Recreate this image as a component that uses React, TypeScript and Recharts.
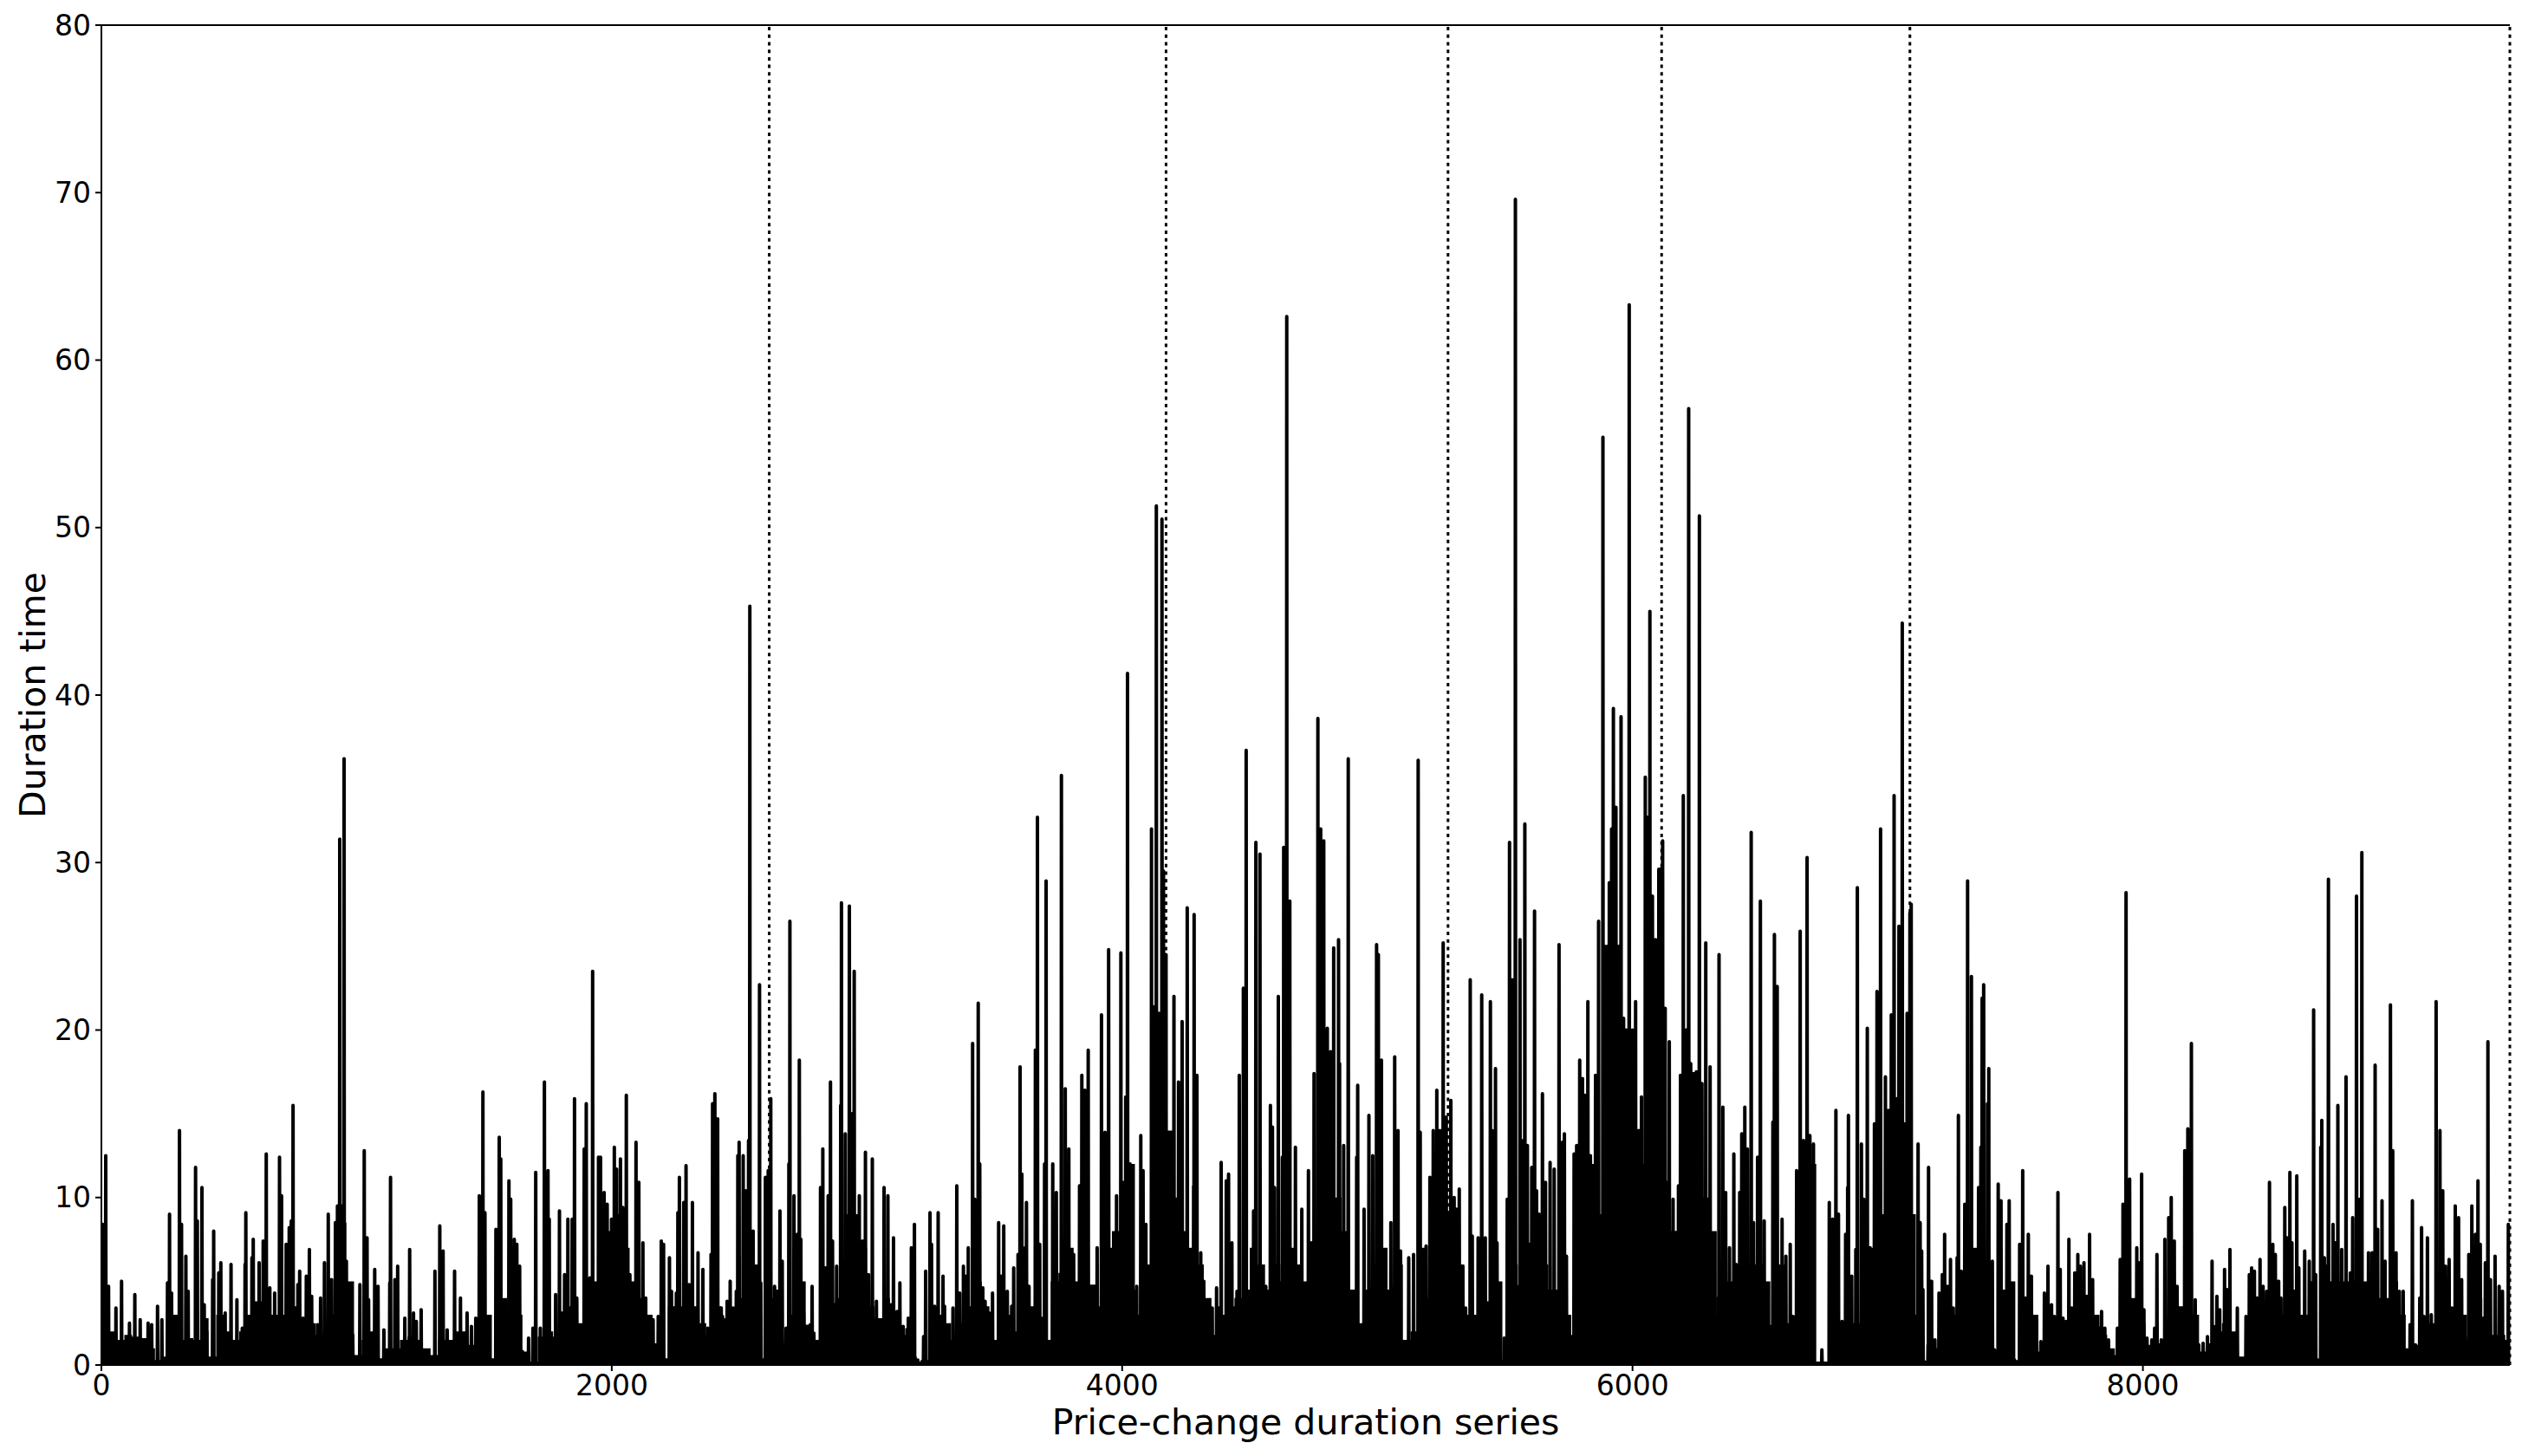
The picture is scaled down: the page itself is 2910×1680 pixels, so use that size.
import React from "react";
import { ComposedChart, Area, Line, XAxis, YAxis, ReferenceLine } from "recharts";

const xTicks = [0, 2000, 4000, 6000, 8000];
const yTicks = [0, 10, 20, 30, 40, 50, 60, 70, 80];
const regimeBreaks = [2617, 4172, 5277, 6114, 7087, 9438];

// [series index, duration], one list per regime
const spikesA: number[][] = [
  [5,8.4],[17,12.5],[28,4.7],[57,3.4],[79,5],[110,2.5],[131,4.2],[152,2.7],[183,2.5],[197,2.4],[220,3.5],[237,2.7],[259,4.9],[267,9],[275,4.3],[306,14],[314,8.4],[331,6.5],[340,4.4],[369,11.8],[376,8.6],[394,10.6],[403,3.6],[413,2],[436,5.1],[440,8],[460,5.5],[468,6.1],[485,3.1],[508,6],[531,3.9],[552,2.2],[563,6],[566,9.1],[590,6.4],[595,7.5],[618,6.1],[634,7.4],[646,12.6],[660,4.6],[679,4.3],[698,12.4],[706,10.1],[724,7.2],[736,8.2],[744,8.6],[751,15.5],[770,4.8],[777,5.6],[790,2.8],[803,5.3],[815,6.9],[824,4.1],[847,2.4],[859,4],[874,6.1],[889,9],[902,5.1],[917,8.5],[925,9.5],[934,31.4],[943,9.5],[951,36.2],[960,6.2],[985,1.8],[1013,4.8],[1030,12.8],[1041,7.6],[1047,3.9],[1071,5.7],[1084,4.7],[1107,2.1],[1130,4.9],[1133,11.2],[1150,5.1],[1161,5.9],[1189,2.8],[1208,6.9],[1223,3.1],[1234,2.6],[1253,3.3],[1307,5.6],[1326,8.3],[1339,6.8],[1355,2.1],
  [1384,5.6],[1407,4],[1433,3.1],[1450,2.3],[1467,2.8],[1481,10.1],[1495,16.3],[1503,9.1],[1515,1.2],[1546,8.1],[1559,13.6],[1565,12.3],[1597,11],[1604,9.9],[1618,7.5],[1628,7.2],[1639,5.9],[1650,0.8],[1674,1.6],[1691,2.2],[1702,11.5],[1720,2.2],[1736,16.9],[1750,11.6],[1755,8.7],[1780,4.2],[1795,9.2],[1815,5.4],[1828,8.7],[1845,8.7],[1854,15.9],[1863,4],[1892,12.9],[1900,15.6],[1914,5.2],[1925,23.5],[1948,12.4],[1956,12.4],[1970,10.3],[1982,9.6],[1999,8.7],[2010,13],[2019,11.7],[2034,12.3],[2043,9.4],[2057,16.1],[2071,5.4],[2083,4.7],[2095,13.3],[2106,10.9],[2122,7.3],[2133,4],[2149,2],[2162,2.7],[2182,2.9],[2194,7.4],[2203,7.2],[2226,6.4],[2234,4.4],[2253,4.3],[2259,9.1],[2265,11.2],[2282,9.7],[2291,11.9],[2303,4.8],[2316,9.7],[2327,3.1],[2338,6.7],[2357,5.7],[2376,2.2],[2389,6.6],[2395,15.6],[2404,16.2],[2415,14.7],[2429,3.4],[2434,2.9],[2452,3.8],[2464,5],[2476,3.4],[2488,4.4],[2494,12.5],[2499,13.3],[2515,12.5],[2525,10.4],[2536,13.4],[2541,45.3],[2554,8],[2579,22.7],[2584,4.9],[2602,11.2],[2613,11.6],
];
const spikesB: number[][] = [
  [2623,15.9],[2638,4.7],[2659,9.2],[2668,6.2],[2683,2.2],[2694,12],[2698,26.5],[2714,10.1],[2727,7.8],[2735,18.2],[2741,7.5],[2752,3.1],[2778,2.4],[2785,4.7],[2792,1.9],[2818,10.6],[2827,12.9],[2837,5.8],[2848,10.1],[2857,16.9],[2865,7.4],[2881,5.9],[2897,15.5],[2900,27.6],[2915,13.8],[2931,27.4],[2942,15],[2950,23.5],[2970,10.1],[2983,7.4],[2994,12.7],[3006,5.4],[3021,12.3],[3037,3.8],[3052,2.3],[3067,10.6],[3082,10.1],[3094,3.6],[3104,7.6],[3118,3.2],[3129,4.9],[3142,2.3],[3162,2.8],[3174,7],[3186,8.4],[3199,0.3],[3222,1.7],[3230,5.6],[3247,9.1],[3253,7.2],[3265,3.5],[3279,9.1],[3298,5.3],[3304,3.5],[3318,2.3],[3337,3.4],[3352,10.7],[3363,4.3],[3378,5.9],[3386,5.3],[3397,7],[3414,19.2],[3422,9.9],[3436,21.6],[3442,12],[3454,4.6],[3463,3.8],[3479,3.1],[3492,4.3],[3516,8.5],[3525,5.3],[3536,8.3],[3550,4.4],[3567,3.5],[3575,5.8],[3592,6.6],[3600,17.8],[3607,11.4],[3620,7],[3625,9.7],[3635,4.7],[3660,18.8],[3668,32.7],[3677,7.2],[3689,2.8],[3696,12],[3702,28.9],[3728,12],[3742,10.3],[3762,35.2],[3777,16.5],[3791,12.9],[3810,6.6],[3822,3.8],[3833,10.7],[3842,17.3],[3854,16.4],[3867,18.8],[3884,3.9],[3902,7],[3919,20.9],[3933,13.9],[3947,24.8],[3978,10.1],[3995,24.6],[4014,16],[4021,41.3],[4031,12],[4048,4.4],[4057,4.7],[4073,13.7],[4082,11.6],[4093,8.4],[4104,3.4],[4115,32],[4121,21.4],[4134,51.3],[4145,21],[4156,50.5],[4162,29.5],
];
const spikesC: number[][] = [
  [4172,24.5],[4189,13.7],[4203,22],[4221,16.9],[4235,20.5],[4255,27.3],[4280,10.7],[4282,26.9],[4293,17.3],[4308,6.7],[4320,5],[4341,3.9],[4353,3.4],[4370,4.6],[4379,3.4],[4388,12.1],[4408,11],[4417,11.4],[4430,7.3],[4450,4.4],[4459,17.3],[4475,22.5],[4486,36.7],[4515,9.2],[4524,31.2],[4540,30.5],[4563,4.7],[4581,15.5],[4589,14.2],[4597,10.6],[4612,22],[4628,12.4],[4633,30.9],[4645,62.6],[4657,27.7],[4679,13],[4704,9.3],[4730,11.6],[4742,7.3],[4752,17.4],[4767,38.6],[4778,32],[4790,31.3],[4804,20.1],[4817,18.7],[4829,24.9],[4848,25.4],[4852,18],[4868,13.1],[4886,36.2],[4897,3.4],[4919,12.4],[4923,16.7],[4948,9.3],[4967,14.9],[4982,12.5],[4997,25.1],[5004,24.5],[5016,18.2],[5033,4.8],[5044,4.4],[5053,8.5],[5068,18.4],[5081,14],[5091,6.8],[5108,0.6],[5123,6.4],[5142,6.6],[5160,36.1],[5168,13.9],[5180,4.3],[5191,7.1],[5206,11.2],[5219,14],[5233,16.4],[5245,14],[5258,25.2],[5270,14.8],
];
const spikesD: number[][] = [
  [5288,15.8],[5301,10],[5310,9.3],[5321,10.5],[5335,5.9],[5346,3.4],[5364,23],[5372,7.7],[5395,7.6],[5409,22.1],[5423,7.6],[5443,21.7],[5450,14],[5463,17.7],[5469,7.3],[5483,0.3],[5497,1.6],[5509,9.9],[5518,31.2],[5529,23],[5541,69.6],[5554,4.7],[5559,25.4],[5571,13.4],[5578,32.3],[5588,13.1],[5596,7.2],[5605,11.8],[5616,27.1],[5624,10.4],[5634,9],[5647,16.2],[5659,10.9],[5677,12.1],[5693,11.7],[5712,25.1],[5725,13.3],[5733,13.8],[5741,6.5],[5749,1],[5763,1.7],[5771,12.6],[5781,13.1],[5793,18.2],[5804,17.1],[5814,16.1],[5825,21.7],[5835,12.5],[5845,9.5],[5855,17.3],[5867,26.5],[5884,55.4],[5892,25],[5900,25],[5909,28.8],[5918,32],[5925,39.2],[5935,33.3],[5945,25],[5955,38.7],[5965,20.7],[5975,20],[5987,63.3],[6000,20],[6012,21.7],[6024,14],[6035,16],[6050,35.1],[6058,32.7],[6068,45],[6078,28],[6090,25.4],[6103,29.6],[6109,29.6],
];
const spikesE: number[][] = [
  [6118,31.3],[6128,21.3],[6144,19.3],[6159,9.9],[6171,7.9],[6180,10.7],[6188,17.3],[6199,34],[6210,20],[6220,57.1],[6228,18],[6239,17.4],[6250,17.5],[6262,50.7],[6272,16.8],[6287,25.2],[6304,17.8],[6315,5.5],[6324,2.5],[6335,4],[6339,24.5],[6354,15.4],[6365,10.3],[6380,7],[6397,12.6],[6406,6],[6420,10.3],[6428,13.8],[6440,15.4],[6450,12.9],[6465,31.8],[6474,8.5],[6490,12.4],[6501,27.7],[6516,8.6],[6527,1.6],[6539,2.3],[6550,14.5],[6556,25.7],[6567,22.6],[6586,8.7],[6601,6.5],[6618,7.2],[6629,2.9],[6643,11.6],[6657,25.9],[6670,13.4],[6684,30.3],[6695,13.7],[6709,13.2],[6742,0.9],[6771,9.7],[6784,8.7],[6797,15.2],[6807,9],[6821,2.6],[6835,7.8],[6843,10.6],[6846,14.9],[6859,5.3],[6875,6.9],[6881,28.5],[6897,13.2],[6906,9.9],[6920,20.1],[6931,7],[6948,14.4],[6958,22.3],[6972,32],[6991,17.2],[7003,15.2],[7014,20.9],[7025,34],[7036,15.9],[7044,26.2],[7057,44.3],[7065,14.4],[7076,21],[7087,27],
];
const spikesF: number[][] = [
  [7092,27.5],[7119,13.2],[7127,8.5],[7133,6.8],[7138,4.5],[7144,0.2],[7158,1.2],[7160,11.8],[7172,5],[7185,1.5],[7201,4.3],[7214,5.4],[7223,7.8],[7234,4.7],[7246,6.3],[7257,3.4],[7272,6.4],[7277,14.9],[7288,5.6],[7302,9.6],[7313,28.9],[7328,23.2],[7348,2.7],[7356,10.6],[7365,13],[7370,21.9],[7376,22.7],[7391,15.6],[7396,17.7],[7410,6.2],[7418,0.9],[7433,10.8],[7444,9.8],[7455,4.1],[7467,8.4],[7476,9.8],[7486,4.4],[7497,0.3],[7517,7.2],[7529,11.6],[7540,4],[7551,7.8],[7563,5.3],[7572,1],[7583,2.7],[7600,1.4],[7614,4.3],[7628,5.9],[7642,3.6],[7653,2.9],[7667,10.3],[7676,5.7],[7687,2.8],[7699,2.6],[7710,7.5],[7721,3.4],[7733,5.5],[7745,6.6],[7755,5.9],[7769,6.1],[7780,4.1],[7791,7.8],[7803,5.1],[7814,2.7],[7829,2.2],[7838,3.2],[7851,2.2],[7865,1.5],[7880,0.6],[7900,2.2],[7911,6.3],[7922,9.6],[7934,28.2],[7948,11.1],[7961,3.3],[7976,7],[7987,6.1],[7995,11.4],[8004,3.3],[8016,1.6],[8035,1.5],[8046,2.2],[8055,6.6],[8072,1.5],[8086,7.5],[8101,8.8],[8111,10],[8123,7.4],[8134,4.7],[8145,1.6],[8153,1.5],[8164,12.8],[8176,14.1],[8190,19.2],[8205,3.9],[8219,1.2],[8236,1.3],[8253,1.7],[8271,6.2],[8277,2.3],[8290,4.1],[8301,3.3],[8320,5.7],[8329,4.5],[8341,6.9],[8349,0.9],[8370,3.4],[8386,0.2],[8404,2.9],[8417,5.4],[8426,5.8],[8437,5.6],[8448,4],[8459,6.3],[8471,4.7],[8485,4.4],[8496,10.9],[8509,7.2],[8519,6.6],[8532,5],[8541,4],[8556,9.4],[8564,7.6],[8576,11.5],[8584,7.3],[8603,11.3],[8611,5.8],[8634,6.8],[8652,6.2],[8660,4.9],[8669,21.2],[8677,5.4],[8685,0.3],[8697,13],[8701,14.6],[8711,6.4],[8727,29],[8745,8.4],[8753,7.3],[8764,15.5],[8779,6.9],[8796,17.2],[8813,5.5],[8822,8.8],[8837,28],[8850,9.9],[8858,30.6],[8869,4.2],[8884,6.7],[8898,6.7],[8910,17.9],[8920,8.1],[8937,9.8],[8949,6.2],[8970,21.5],[8979,12.8],[8992,6.7],[9005,4.4],[9020,4.4],[9034,0.9],[9047,2.4],[9056,9.8],[9068,1.2],[9085,4],[9092,8.2],[9101,2.9],[9115,7.6],[9130,3],[9149,21.7],[9164,14],[9175,10.4],[9186,5.9],[9200,6.3],[9211,3.4],[9224,9.5],[9237,8.8],[9249,5.1],[9262,1.7],[9277,6.6],[9289,9.5],[9303,7.8],[9313,11],[9322,7.2],[9334,2.8],[9342,6.1],[9352,19.3],[9362,5.1],[9380,6.5],[9396,4.7],[9409,4.4],[9419,1.4],[9432,8.4],
];

// height of the solid black mass under the spikes, every 30 points of the series
const massLevels: number[][] = [
  [0,3.5],[30,2],[60,1.5],[90,1.8],[120,1.7],[150,1.6],[180,1],[210,0.3],[240,0.5],[270,3],[300,1.5],[330,1.6],[360,1.5],[390,2.8],[420,0.5],[450,3],[480,2],[510,1.5],[540,2],[570,3],[600,3.8],[630,4.2],[660,3],[690,3],[720,3.2],[750,3.5],[780,2],[810,2.5],[840,1.8],[870,2.5],[900,3],[930,8.5],[960,5],[990,0.6],[1020,1.5],[1050,2],[1080,0.4],[1110,1],[1140,1],[1170,1.5],[1200,1.7],[1230,1.5],[1260,1],[1290,0.6],[1320,1.5],[1350,1.5],
  [1380,2],[1410,2],[1440,1.2],[1470,2.3],[1500,3],[1530,0.4],[1560,4],[1590,2.5],[1620,3],[1650,0.8],[1680,0.2],[1710,1.7],[1740,2],[1770,1.7],[1800,3.2],[1830,3.5],[1860,2.5],[1890,0.4],[1920,5],[1950,7],[1980,8],[2010,9],[2040,7],[2070,5],[2100,4],[2130,3],[2160,1.3],[2190,0.4],[2220,3.5],[2250,3.5],[2280,4],[2310,3.5],[2340,2.5],[2370,1.8],[2400,3.5],[2430,2.8],[2460,3.3],[2490,4],[2520,5],[2550,6],[2580,0.4],[2610,4],[2640,4.5],[2670,1.2],[2700,3],
  [2730,5],[2760,2.4],[2790,1.5],[2820,2],[2850,3.7],[2880,4],[2910,9],[2940,9],[2970,7],[3000,3.5],[3030,2.8],[3060,4],[3090,2.5],[3120,1.8],[3150,2.2],[3180,0.5],[3195,0.2],[3210,0.3],[3240,2],[3270,3],[3300,2.5],[3330,1.5],[3360,2.5],[3390,3.5],[3420,5],[3450,3.5],[3480,1.5],[3510,2.5],[3540,3],[3570,2],[3600,4],[3630,3.5],[3660,2],[3690,1.5],[3720,5],[3750,5.5],[3780,7],[3810,5],[3840,4.5],[3870,4.8],[3900,3.5],[3930,7],[3960,8],[3990,11],[4020,12],[4050,3],
  [4080,6],[4110,14],[4140,14],[4170,14],[4200,10],[4230,8],[4260,7],[4290,6],[4320,4],[4350,1.8],[4380,3],[4410,3.5],[4440,4],[4470,4.5],[4500,7],[4530,6],[4560,4.5],[4590,6],[4620,5],[4650,7],[4680,6],[4710,5],[4740,7],[4770,10],[4800,10],[4830,10],[4860,8],[4890,4.5],[4920,2.5],[4950,4.5],[4980,6],[5010,7],[5040,4.5],[5070,6],[5100,1.5],[5130,2],[5160,7],[5190,4],[5220,6],[5250,9],[5280,9],[5310,6],[5340,3],[5370,3],[5400,4],[5430,3.8],
  [5460,5],[5490,0.3],[5520,6],[5550,4],[5580,5],[5610,4],[5640,6],[5670,4.5],[5700,4.5],[5730,3],[5760,1],[5790,12],[5820,12],[5850,9],[5880,10],[5910,13],[5940,12],[5970,11],[6000,13],[6030,12],[6060,13],[6090,13],[6120,11],[6150,8],[6180,7],[6210,8.5],[6240,10],[6270,10],[6300,8],[6330,3],[6360,5],[6390,5],[6420,5],[6450,5],[6480,6],[6510,5],[6540,1.5],[6570,6],[6600,2.5],[6630,2.2],[6660,9],[6690,12],[6720,0.2],[6750,0.2],[6780,6],
  [6810,2],[6840,2.5],[6870,2.5],[6900,6.5],[6930,7],[6960,9],[6990,10],[7020,10],[7050,9],[7080,9],[7110,3],[7140,0.2],[7170,1],[7200,3],[7230,3],[7260,3],[7290,4],[7320,7],[7350,3],[7380,6],[7410,0.9],[7440,4.5],[7470,5],[7500,0.3],[7530,3],[7560,3],[7590,0.8],[7620,1.8],[7650,2.8],[7680,2.2],[7710,3.3],[7740,3.5],[7770,3.5],[7800,3],[7830,1.8],[7860,1],[7890,0.6],[7920,6],[7950,4],[7980,2.5],[8010,1.2],[8040,1.3],[8070,1.3],[8100,4],[8130,3.5],
  [8160,1.3],[8190,3],[8220,0.8],[8250,1.3],[8280,2],[8310,2.5],[8340,2],[8370,0.5],[8400,0.2],[8430,3.5],[8460,3.5],[8490,3],[8520,3],[8550,4],[8580,4.5],[8610,3],[8640,3],[8670,0.3],[8700,6],[8730,5],[8760,5],[8790,5],[8820,5],[8850,5],[8880,4],[8910,4],[8940,4],[8970,5],[9000,3],[9030,0.8],[9060,1.2],[9090,2.5],[9120,2.5],[9150,5],[9180,3],[9210,2.5],[9240,3],[9270,1.5],[9300,4],[9330,1.5],[9360,1.8],[9390,1.8],[9420,1.5],[9438,1.5],
];

const spikeRows = [...spikesA, ...spikesB, ...spikesC, ...spikesD, ...spikesE, ...spikesF]
  .sort((a, b) => a[0] - b[0])
  .flatMap(([index, duration]) => [
    { index: index - 1, duration: 0.1 },
    { index, duration },
    { index: index + 1, duration: 0.1 },
  ]);
const massRows = massLevels.map(([index, duration]) => ({ index, duration }));

const FONT = "DejaVu Sans";
const tickStyle = { fontSize: 33, fontFamily: FONT, fill: "#000" };
const labelStyle = { fontSize: 41, fontFamily: FONT, fill: "#000", textAnchor: "middle" as const };

export default function App() {
  return (
    <div style={{ position: "absolute", left: 0, top: 0, background: "#fff" }}>
      <ComposedChart
        width={2910}
        height={1680}
        margin={{ top: 29, right: 14, bottom: 0, left: 0 }}
      >
        <XAxis
          dataKey="index"
          type="number"
          domain={[0, 9438]}
          ticks={xTicks}
          height={105}
          tick={tickStyle}
          tickSize={7}
          tickMargin={5}
          axisLine={{ stroke: "#000", strokeWidth: 2 }}
          tickLine={{ stroke: "#000", strokeWidth: 2 }}
          allowDuplicatedCategory={false}
          label={{ value: "Price-change duration series", position: "insideBottom", offset: 25, style: labelStyle }}
        />
        <YAxis
          type="number"
          domain={[0, 80]}
          ticks={yTicks}
          width={117}
          tick={tickStyle}
          tickSize={7}
          tickMargin={5}
          axisLine={{ stroke: "#000", strokeWidth: 2 }}
          tickLine={{ stroke: "#000", strokeWidth: 2 }}
          label={{ value: "Duration time", angle: -90, position: "insideLeft", offset: 37, style: labelStyle }}
        />
        <ReferenceLine y={80} stroke="#000" strokeWidth={2} />
        {regimeBreaks.map((x) => (
          <ReferenceLine key={x} x={x} stroke="#000" strokeWidth={3} strokeDasharray="4 4.7" />
        ))}
        <Area
          data={massRows}
          dataKey="duration"
          type="stepAfter"
          stroke="none"
          fill="#000"
          fillOpacity={1}
          dot={false}
          activeDot={false}
          isAnimationActive={false}
        />
        <Line
          data={spikeRows}
          dataKey="duration"
          type="linear"
          stroke="#000"
          strokeWidth={4}
          strokeLinejoin="round"
          dot={false}
          activeDot={false}
          isAnimationActive={false}
        />
      </ComposedChart>
    </div>
  );
}
